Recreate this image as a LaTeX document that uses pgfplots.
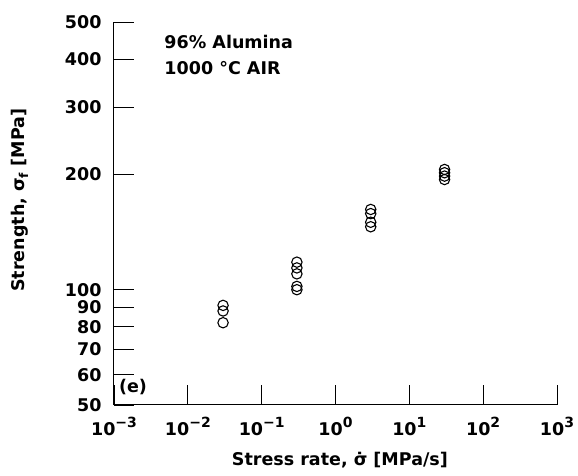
\documentclass[border=0pt]{standalone}
\usepackage{fontspec}
\setmainfont{DejaVu Sans}
\usepackage{pgfplots}
\pgfplotsset{compat=1.18}
\newcommand\ee[1]{10\raisebox{0.42em}{\fontsize{14}{14}\selectfont\bfseries #1}}
\newcommand\bigfont{\fontsize{17.5}{20}\selectfont\bfseries}
\begin{document}
\begin{tikzpicture}
\begin{axis}[
  name=ax, scale only axis, width=443pt, height=383pt,
  xmode=log, ymode=log,
  xmin=1e-3, xmax=1e3, ymin=50, ymax=500,
  axis x line*=bottom, axis y line*=left,
  axis line style={-, line width=1pt},
  xtick={1e-3,1e-2,1e-1,1,10,100,1000},
  xticklabels={\ee{−3},\ee{−2},\ee{−1},\ee{0},\ee{1},\ee{2},\ee{3}},
  ytick={50,60,70,80,90,100,200,300,400,500},
  yticklabels={50,60,70,80,90,100,200,300,400,500},
  xminorticks=false, yminorticks=false,
  tick align=inside, major tick length=20pt,
  tick style={line width=0.9pt, black},
  tick label style={font=\bigfont},
  xticklabel style={yshift=-9pt},
  yticklabel style={xshift=-9pt},
  xlabel={Stress rate, σ̇ [MPa/s]},
  ylabel={Strength, σ\textsubscript{f} [MPa]},
  label style={font=\bigfont},
  xlabel style={at={(axis description cs:0.51,-0.145)}, anchor=center},
  ylabel style={at={(axis description cs:-0.212,0.535)}, anchor=center, rotate=0},
]
\addplot[only marks, mark=o, mark size=5.2pt, line width=1.1pt, black] coordinates {
  (0.03,91) (0.03,88) (0.03,82)
  (0.3,118) (0.3,114) (0.3,110) (0.3,102) (0.3,100)
  (3,162) (3,158) (3,150) (3,146)
  (30,206) (30,202) (30,198) (30,194)
};
\node[anchor=west, font=\bigfont] at (axis description cs:0.106,0.948) {96\% Alumina};
\node[anchor=west, font=\bigfont] at (axis description cs:0.106,0.880) {1000 °C AIR};
\node[anchor=center, font=\bigfont] at (axis description cs:0.043,0.046) {(e)};
\end{axis}
\pgfresetboundingbox
\path (ax.south west) ++(-114pt,-70pt) rectangle ++(578pt,475pt);
\end{tikzpicture}
\end{document}
